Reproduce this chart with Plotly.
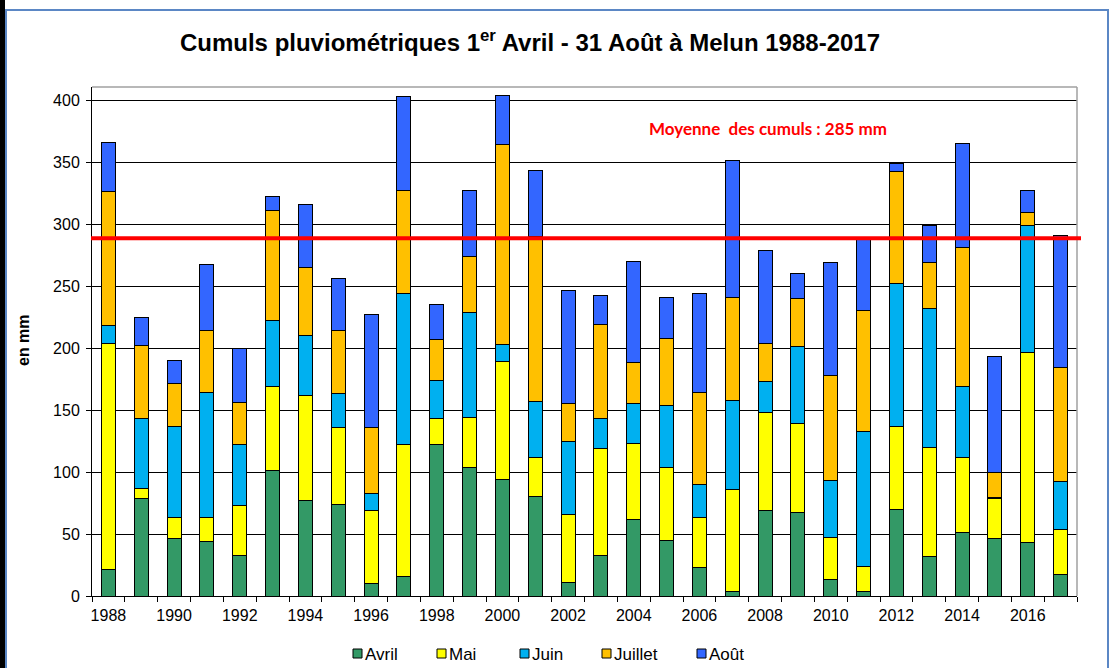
import plotly.graph_objects as go

years = list(range(1988, 2018))
avril = [21, 79, 46, 44, 33, 101, 77, 74, 10, 16, 122, 104, 94, 80, 11, 33, 62, 45, 23, 4, 69, 67, 13, 4, 70, 32, 51, 46, 43, 17]
mai = [183, 8, 17, 19, 40, 68, 85, 62, 59, 106, 21, 40, 95, 32, 55, 86, 61, 59, 40, 82, 79, 72, 34, 20, 67, 88, 61, 33, 153, 37]
juin = [14, 56, 74, 101, 49, 53, 48, 27, 14, 122, 31, 85, 14, 45, 59, 24, 32, 50, 27, 72, 25, 62, 46, 109, 115, 112, 57, 0.5, 103, 38]
juillet = [108, 59, 34, 50, 34, 89, 55, 51, 53, 83, 33, 45, 161, 133, 30, 76, 33, 54, 74, 83, 31, 39, 85, 97, 90, 37, 112, 20.5, 10, 92]
aout = [40, 23, 19, 53, 44, 11, 51, 42, 91, 76, 28, 53, 40, 53, 91, 23, 82, 33, 80, 110, 75, 20, 91, 58, 7, 30, 84, 93, 18, 107]

series_names = ["Avril", "Mai", "Juin", "Juillet", "Août"]
series_values = [avril, mai, juin, juillet, aout]
series_colors = ["#339966", "#FFFF00", "#00B0F0", "#FFC000", "#3366FF"]

mean_line = 288.5
mean_label = "Moyenne  des cumuls : 285 mm"
tick_years = list(range(1988, 2017, 2))

W, H = 1113, 668
L, R, T, B = 92, 36, 87, 72
PW, PH = W - L - R, H - T - B

def px(x):
    return (x - L) / PW

def py(y):
    return (H - B - y) / PH

FONT = "Liberation Sans, Arial, sans-serif"

fig = go.Figure()
for name, vals, col in zip(series_names, series_values, series_colors):
    fig.add_trace(go.Bar(x=years, y=vals, name=name, marker=dict(color=col, line=dict(color="#000000", width=1)),
                         showlegend=False))

shapes = []
# outer frame
shapes.append(dict(type="rect", xref="paper", yref="paper", x0=px(6), x1=px(1108), y0=py(700), y1=py(10),
                   line=dict(color="#5B87C5", width=2), fillcolor="rgba(0,0,0,0)", layer="below"))
# black band on the left
shapes.append(dict(type="rect", xref="paper", yref="paper", x0=px(-2), x1=px(5), y0=py(700), y1=py(-2),
                   line=dict(width=0), fillcolor="#000000", layer="above"))
# plot area frame (gray top/right)
shapes.append(dict(type="line", xref="paper", yref="paper", x0=0, x1=1, y0=1, y1=1,
                   line=dict(color="#A0A0A0", width=1.5)))
shapes.append(dict(type="line", xref="paper", yref="paper", x0=1, x1=1, y0=0, y1=1,
                   line=dict(color="#A0A0A0", width=1.5)))
# mean line
shapes.append(dict(type="line", xref="paper", yref="y", x0=px(91), x1=px(1081), y0=mean_line, y1=mean_line,
                   line=dict(color="#FF0000", width=4), layer="above"))

annotations = []
annotations.append(dict(x=2008.1, y=377, xref="x", yref="y", text="<b>" + mean_label + "</b>", showarrow=False,
                        xanchor="center", yanchor="middle",
                        font=dict(family="Lato, sans-serif", size=17, color="#FF0000")))
annotations.append(dict(x=px(23), y=py(340), xref="paper", yref="paper", text="<b>en mm</b>", textangle=-90,
                        xanchor="center", yanchor="middle",
                        showarrow=False, font=dict(family=FONT, size=16, color="#000000")))

# manual legend
leg_x = [353, 437, 520, 602, 697]
leg_y = 653
for name, col, lx in zip(series_names, series_colors, leg_x):
    shapes.append(dict(type="rect", xref="paper", yref="paper", x0=px(lx), x1=px(lx + 9), y0=py(leg_y + 5), y1=py(leg_y - 4),
                       line=dict(color="#000000", width=1), fillcolor=col))
    annotations.append(dict(x=px(lx + 10), y=py(leg_y + 1), xref="paper", yref="paper", text=name, showarrow=False,
                            xanchor="left", yanchor="middle", font=dict(family=FONT, size=17, color="#000000")))

fig.update_layout(
    width=W, height=H,
    margin=dict(l=L, r=R, t=T, b=B),
    paper_bgcolor="#FFFFFF", plot_bgcolor="#FFFFFF",
    barmode="stack", bargap=0.57,
    font=dict(family=FONT, size=16, color="#000000"),
    title=dict(text="<b>Cumuls pluviométriques 1<sup>er</sup> Avril - 31 Août à Melun 1988-2017</b>",
               x=530 / W, xanchor="center", y=1 - 43 / H, yanchor="middle", yref="container",
               font=dict(family=FONT, size=24, color="#000000")),
    shapes=shapes, annotations=annotations,
)
fig.update_xaxes(range=[1987.5, 2017.5], tickvals=tick_years, ticktext=[str(y) for y in tick_years],
                 showline=True, linecolor="#000000", linewidth=1, ticks="", showgrid=False, zeroline=False,
                 tickfont=dict(size=16), ticklabelstandoff=5,
                 minor=dict(tick0=1987.5, dtick=1, ticks="outside", ticklen=5, tickcolor="#000000", showgrid=False))
fig.update_yaxes(range=[0, 410.5], tickvals=list(range(0, 401, 50)), showline=True, linecolor="#000000", linewidth=1,
                 ticks="outside", ticklen=5, tickcolor="#000000", showgrid=True, gridcolor="#000000", gridwidth=1,
                 zeroline=False, tickfont=dict(size=16), ticklabelstandoff=3)

fig.write_html("out.html", config={"displayModeBar": False},
               post_script="document.body.style.margin='0';document.body.style.overflow='hidden';")
